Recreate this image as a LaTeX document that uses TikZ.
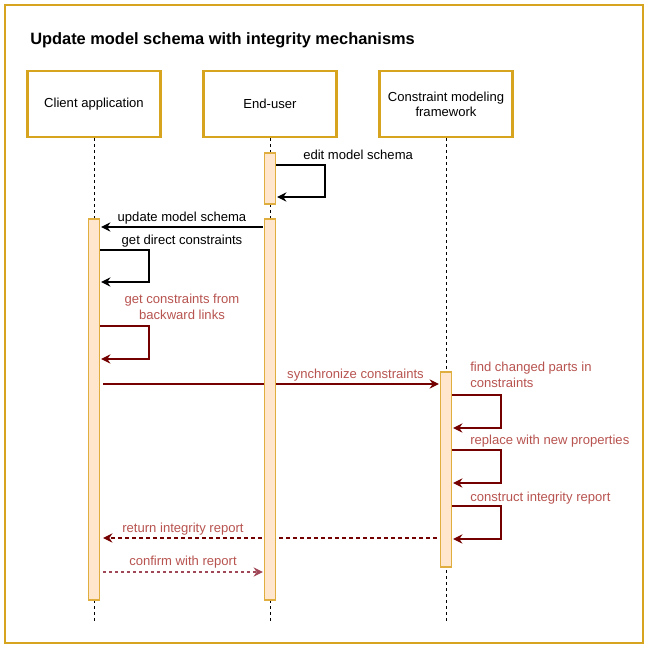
\documentclass[tikz,border=0pt]{standalone}
\usepackage{fontspec}
\setmainfont{Liberation Sans}
\usetikzlibrary{arrows.meta,calc}
\definecolor{gold}{HTML}{D6A41E}
\definecolor{barline}{HTML}{E0AE3E}
\definecolor{barfill}{HTML}{FFE6CC}
\definecolor{redline}{HTML}{750000}
\definecolor{redtext}{HTML}{B85450}
\definecolor{confline}{HTML}{A04858}
\pgfdeclarelayer{bg}
\pgfsetlayers{bg,main}
\tikzset{
  lbl/.style={font=\fontsize{9.8}{12}\selectfont, inner sep=0pt, align=center},
  lifebox/.style={draw=gold, line width=1.6pt, fill=white, minimum width=99.75pt, minimum height=49.5pt, inner sep=1pt, align=center, font=\fontsize{9.8}{11.25}\selectfont},
  bar/.style={draw=barline, line width=1pt, fill=barfill, minimum width=8.25pt, inner sep=0pt},
  lifeline/.style={draw=black, line width=0.6pt, dash pattern=on 2.25pt off 2.25pt},
  tip/.style={-{Stealth[length=7pt,width=7pt,inset=2.4pt]}},
  msg/.style={tip, draw=black, line width=0.8pt},
  rmsg/.style={tip, draw=redline, line width=0.8pt},
  rdash/.style={tip, draw=redline, line width=0.8pt, dash pattern=on 3pt off 2.25pt},
  cdash/.style={tip, draw=confline, line width=0.8pt, dash pattern=on 2.25pt off 2.25pt},
}
\begin{document}
\begin{tikzpicture}[x=0.75pt,y=-0.75pt]
\useasboundingbox (0,0) rectangle (653,651);
\begin{pgfonlayer}{bg}
\fill[white] (0,0) rectangle (653,651);
\draw[gold, line width=1.6pt] (5,5) rectangle (643,643);
\end{pgfonlayer}
\node[anchor=west, inner sep=0pt, font=\fontsize{12.3}{14}\selectfont\bfseries] (title) at (30,40) {Update model schema with integrity mechanisms};

% lifeline heads
\node[lifebox] (ca) at (94,104) {Client application};
\node[lifebox] (eu) at (270,104) {End-user};
\node[lifebox] (cm) at (446,104) {Constraint modeling\\framework};

\coordinate (caend) at (94,622);
\coordinate (euend) at (270,622);
\coordinate (cmend) at (446,622);

% activation bars
\node[bar, minimum height=38.25pt] (b0) at (270,178.5) {};
\node[bar, minimum height=285.75pt] (bca) at (94,409.5) {};
\node[bar, minimum height=285.75pt] (beu) at (270,409.5) {};
\node[bar, minimum height=146.25pt] (bcm) at (446,469.5) {};

\begin{pgfonlayer}{bg}
\draw[lifeline] (ca.south) -- (caend);
\draw[lifeline] (eu.south) -- (euend);
\draw[lifeline] (cm.south) -- (cmend);
% messages crossing the End-user bar
\draw[rmsg] ($(bca.east |- 0,384)+(3,0)$) -- ($(bcm.west |- 0,384)+(-1,0)$);
\draw[rdash] ($(bcm.west |- 0,538)+(-3,0)$) -- ($(bca.east |- 0,538)+(3,0)$);
\end{pgfonlayer}

% edit model schema
\draw[msg] (b0.east |- 0,165) -- (325,165) |- ($(b0.east |- 0,197)+(1,0)$);
\node[lbl, anchor=west] (l1) at (303,155) {edit model schema};

% update model schema
\draw[msg] ($(beu.west |- 0,227)+(-1,0)$) -- ($(bca.east |- 0,227)+(1,0)$);
\node[lbl] (l2) at (182,218) {update model schema};

% get direct constraints
\draw[msg] (bca.east |- 0,250) -- (149,250) |- ($(bca.east |- 0,282)+(1,0)$);
\node[lbl] (l3) at (182,241) {get direct constraints};

% get constraints from backward links
\draw[rmsg] (bca.east |- 0,326) -- (149,326) |- ($(bca.east |- 0,359)+(1,0)$);
\node[lbl, text=redtext] (l4) at (182,306.5) {get constraints from\\backward links};

% synchronize constraints label
\node[lbl, text=redtext] (l5) at (355.5,375) {synchronize constraints};

% find changed parts
\draw[rmsg] (bcm.east |- 0,395) -- (501,395) |- ($(bcm.east |- 0,428)+(1,0)$);
\node[lbl, text=redtext, anchor=west, align=left] (l6) at (470,375) {find changed parts in\\constraints};

% replace with new properties
\draw[rmsg] (bcm.east |- 0,450) -- (501,450) |- ($(bcm.east |- 0,483)+(1,0)$);
\node[lbl, text=redtext, anchor=west] (l7) at (470,441) {replace with new properties};

% construct integrity report
\draw[rmsg] (bcm.east |- 0,506) -- (501,506) |- ($(bcm.east |- 0,539)+(1,0)$);
\node[lbl, text=redtext, anchor=west] (l8) at (470,498) {construct integrity report};

% return integrity report label
\node[lbl, text=redtext] (l9) at (183,529) {return integrity report};

% confirm with report
\draw[cdash] ($(bca.east |- 0,572)+(3,0)$) -- ($(beu.west |- 0,572)+(-1,0)$);
\node[lbl, text=redtext] (l10) at (183,562) {confirm with report};
\end{tikzpicture}
\end{document}
